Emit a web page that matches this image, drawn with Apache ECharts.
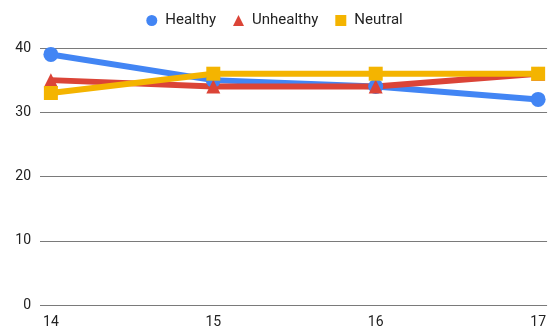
<!DOCTYPE html>
<html>
<head>
<meta charset="utf-8">
<script src="https://cdn.jsdelivr.net/npm/echarts@6/dist/echarts.min.js"></script>
<style>
  html, body { margin: 0; padding: 0; background: #fff; }
  #main { width: 549px; height: 329px; }
</style>
</head>
<body>
<div id="main"></div>
<script>
// 数据
var categories = [14, 15, 16, 17];
var healthy = [39, 35, 34, 32];
var unhealthy = [35, 34, 34, 36];
var neutral = [33, 36, 36, 36];
var yTicks = [0, 10, 20, 30, 40];

function pairs(vals) {
  return categories.map(function (c, i) { return [c, vals[i]]; });
}

function lineSeries(name, vals, color, symbol, size) {
  return {
    name: name,
    type: 'line',
    data: pairs(vals),
    symbol: symbol,
    symbolSize: size,
    lineStyle: { width: 6, color: color },
    itemStyle: { color: color },
    emphasis: { disabled: true }
  };
}

var chart = echarts.init(document.getElementById('main'), null, { renderer: 'canvas' });
chart.setOption({
  animation: false,
  textStyle: { fontFamily: 'Roboto' },
  legend: {
    top: 8,
    left: 'center',
    itemGap: 17,
    itemWidth: 11,
    itemHeight: 11,
    textStyle: { fontSize: 15, color: '#222', fontFamily: 'Roboto', padding: [0, 0, 0, 3] },
    data: [
      { name: 'Healthy', icon: 'circle' },
      { name: 'Unhealthy', icon: 'triangle' },
      { name: 'Neutral', icon: 'rect' }
    ]
  },
  grid: { left: 40, right: 0, top: 48, bottom: 23, containLabel: false },
  xAxis: {
    type: 'value',
    min: 13.933,
    max: 17.055,
    splitLine: { show: false },
    axisLine: { show: false },
    axisTick: { show: false },
    axisLabel: {
      customValues: categories,
      color: '#222',
      fontSize: 14,
      margin: 10
    }
  },
  yAxis: {
    type: 'value',
    min: 0,
    max: 40,
    interval: 10,
    axisLine: { show: false },
    axisTick: { show: false },
    axisLabel: { color: '#222', fontSize: 14, margin: 9 },
    splitLine: { lineStyle: { color: '#7a7a7a', width: 1 } }
  },
  series: [
    lineSeries('Healthy', healthy, '#4285F4', 'circle', 15),
    lineSeries('Unhealthy', unhealthy, '#DB4437', 'triangle', 14),
    lineSeries('Neutral', neutral, '#F4B400', 'rect', 14)
  ]
});
</script>
</body>
</html>
